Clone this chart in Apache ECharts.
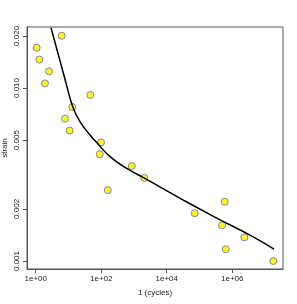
<!DOCTYPE html>
<html><head><meta charset="utf-8">
<script src="https://cdn.jsdelivr.net/npm/echarts@6/dist/echarts.min.js"></script>
<style>html,body{margin:0;padding:0;background:#fff}#c{width:297px;height:304px}</style>
</head><body><div id="c"></div>
<script>
// observed data: cycles and strain
const cycles = [1.07, 1.29, 2.55, 1.92, 6.2, 46.5, 13.1, 7.85, 10.9, 98.6, 90, 854, 2070, 158, 71600, 590000, 489000, 2340000, 634000, 18000000];
const strain = [0.0171, 0.01459, 0.01249, 0.01064, 0.02005, 0.00911, 0.00777, 0.00665, 0.00567, 0.00485, 0.00414, 0.00354, 0.00302, 0.00257, 0.00189, 0.00220, 0.00161, 0.00137, 0.00117, 0.00100];
// fitted curve
const curveN = [2.93, 5.33, 8.42, 13.5, 22.5, 45.5, 79.8, 186, 601, 2027, 32100, 336000, 3500000, 18900000];
const curveStrain = [0.02232, 0.01471, 0.01069, 0.00780, 0.00639, 0.00535, 0.00475, 0.00401, 0.00343, 0.00302, 0.00225, 0.00177, 0.00141, 0.00117];
const xTicks = [1, 100, 10000, 1000000];
const xTickLabels = ['1e+00', '1e+02', '1e+04', '1e+06'];
const yTicks = [0.001, 0.002, 0.005, 0.01, 0.02];
const yTickLabels = ['0.001', '0.002', '0.005', '0.010', '0.020'];

const chart = echarts.init(document.getElementById('c'), null, {renderer: 'canvas'});
const font = 'Liberation Sans, Arial, sans-serif';
const pts = cycles.map((c, i) => [c, strain[i]]);
const crv = curveN.map((c, i) => [c, curveStrain[i]]);
chart.setOption({
  animation: false,
  grid: {left: 27, top: 27, right: 14, bottom: 35, containLabel: false, outerBoundsMode: 'none',
         show: true, borderColor: '#555', borderWidth: 1, backgroundColor: 'transparent'},
  xAxis: {
    type: 'log', logBase: 10, min: Math.pow(10, -0.266), max: Math.pow(10, 7.55),
    name: '1 (cycles)', nameLocation: 'middle', nameGap: 20, nameMoveOverlap: false,
    nameTextStyle: {fontFamily: font, fontSize: 8, color: '#222'},
    axisLine: {show: true, lineStyle: {color: '#555', width: 1}},
    axisTick: {show: true, length: 4, lineStyle: {color: '#555'}, customValues: xTicks},
    axisLabel: {fontFamily: font, fontSize: 8, color: '#222', margin: 6, customValues: xTicks,
      formatter: v => { const i = xTicks.findIndex(t => Math.abs(Math.log10(t) - Math.log10(v)) < 1e-6); return i >= 0 ? xTickLabels[i] : ''; }},
    splitLine: {show: false}, minorTick: {show: false}
  },
  yAxis: {
    type: 'log', logBase: 10, min: 0.000899, max: 0.02253,
    name: 'strain', nameLocation: 'middle', nameGap: 18, nameRotate: 90, nameMoveOverlap: false,
    nameTextStyle: {fontFamily: font, fontSize: 8, color: '#222'},
    axisLine: {show: true, lineStyle: {color: '#555', width: 1}},
    axisTick: {show: true, length: 4, lineStyle: {color: '#555'}, customValues: yTicks},
    axisLabel: {fontFamily: font, fontSize: 8, color: '#222', margin: 6, rotate: 90, customValues: yTicks,
      formatter: v => { const i = yTicks.findIndex(t => Math.abs(Math.log10(t) - Math.log10(v)) < 1e-6); return i >= 0 ? yTickLabels[i] : ''; }},
    splitLine: {show: false}, minorTick: {show: false}
  },
  series: [
    {type: 'line', data: crv, smooth: 0.5, showSymbol: false, lineStyle: {color: '#000', width: 1.5}, silent: true, clip: true},
    {type: 'scatter', data: pts, symbol: 'circle', symbolSize: 7,
     itemStyle: {color: '#ffff00', borderColor: '#7b7bdc', borderWidth: 1, opacity: 1}}
  ]
});
</script></body></html>
